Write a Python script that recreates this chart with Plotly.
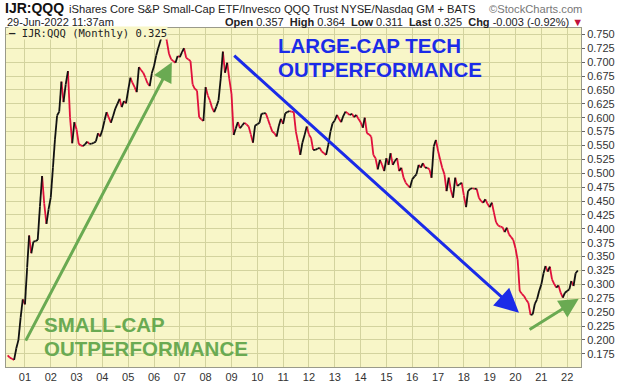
import pandas as pd
import plotly.graph_objects as go

# Monthly IJR:QQQ ratio, May 2000 .. Jun 2022
ratio_2000 = [0.172, 0.168, 0.166, 0.164, 0.185, 0.200, 0.240, 0.273]
ratio_2001 = [0.264, 0.330, 0.388, 0.356, 0.377, 0.378, 0.380, 0.440, 0.495, 0.445, 0.409, 0.435]
ratio_2002 = [0.456, 0.510, 0.560, 0.604, 0.611, 0.665, 0.628, 0.660, 0.684, 0.600, 0.554, 0.592]
ratio_2003 = [0.579, 0.553, 0.550, 0.549, 0.552, 0.557, 0.553, 0.553, 0.555, 0.557, 0.572, 0.566]
ratio_2004 = [0.578, 0.595, 0.610, 0.600, 0.591, 0.603, 0.616, 0.625, 0.634, 0.619, 0.630, 0.626]
ratio_2005 = [0.650, 0.672, 0.663, 0.655, 0.646, 0.691, 0.686, 0.681, 0.672, 0.662, 0.657, 0.680]
ratio_2006 = [0.693, 0.712, 0.725, 0.738, 0.752, 0.758, 0.738, 0.715, 0.705, 0.702, 0.699, 0.711]
ratio_2007 = [0.709, 0.718, 0.725, 0.708, 0.705, 0.702, 0.660, 0.652, 0.649, 0.601, 0.597, 0.594]
ratio_2008 = [0.655, 0.640, 0.631, 0.618, 0.610, 0.620, 0.631, 0.670, 0.719, 0.681, 0.699, 0.670]
ratio_2009 = [0.643, 0.569, 0.580, 0.592, 0.581, 0.586, 0.591, 0.588, 0.584, 0.570, 0.555, 0.586]
ratio_2010 = [0.588, 0.591, 0.607, 0.608, 0.608, 0.597, 0.586, 0.575, 0.572, 0.566, 0.585, 0.598]
ratio_2011 = [0.589, 0.608, 0.610, 0.612, 0.611, 0.610, 0.575, 0.555, 0.533, 0.555, 0.569, 0.584]
ratio_2012 = [0.570, 0.563, 0.542, 0.542, 0.544, 0.546, 0.539, 0.536, 0.533, 0.551, 0.575, 0.590]
ratio_2013 = [0.595, 0.605, 0.598, 0.592, 0.603, 0.611, 0.608, 0.605, 0.607, 0.601, 0.605, 0.598]
ratio_2014 = [0.592, 0.582, 0.600, 0.572, 0.570, 0.566, 0.533, 0.527, 0.507, 0.524, 0.515, 0.504]
ratio_2015 = [0.527, 0.515, 0.536, 0.515, 0.522, 0.527, 0.504, 0.510, 0.492, 0.483, 0.478, 0.474]
ratio_2016 = [0.489, 0.494, 0.498, 0.515, 0.510, 0.518, 0.510, 0.510, 0.507, 0.492, 0.548, 0.560]
ratio_2017 = [0.540, 0.524, 0.510, 0.498, 0.468, 0.492, 0.470, 0.456, 0.492, 0.477, 0.480, 0.483]
ratio_2018 = [0.460, 0.439, 0.468, 0.472, 0.473, 0.472, 0.472, 0.456, 0.450, 0.447, 0.453, 0.445]
ratio_2019 = [0.439, 0.447, 0.430, 0.412, 0.406, 0.404, 0.403, 0.394, 0.402, 0.390, 0.385, 0.380]
ratio_2020 = [0.365, 0.344, 0.288, 0.283, 0.279, 0.272, 0.267, 0.245, 0.246, 0.265, 0.273, 0.288]
ratio_2021 = [0.300, 0.320, 0.333, 0.323, 0.332, 0.309, 0.301, 0.294, 0.298, 0.285, 0.276, 0.285]
ratio_2022 = [0.288, 0.291, 0.306, 0.297, 0.320, 0.325]

start_month = "2000-05-01"

year_tick_dates = [f"{y}-01-01" for y in range(2001, 2023)]
year_tick_labels = ["01", "02", "03", "04", "05", "06", "07", "08", "09", "10", "11",
                    "12", "13", "14", "15", "16", "17", "18", "19", "20", "21", "22"]
y_tick_values = [0.175, 0.200, 0.225, 0.250, 0.275, 0.300, 0.325, 0.350, 0.375, 0.400,
                 0.425, 0.450, 0.475, 0.500, 0.525, 0.550, 0.575, 0.600, 0.625, 0.650,
                 0.675, 0.700, 0.725, 0.750]

values = (ratio_2000 + ratio_2001 + ratio_2002 + ratio_2003 + ratio_2004 + ratio_2005 +
          ratio_2006 + ratio_2007 + ratio_2008 + ratio_2009 + ratio_2010 + ratio_2011 +
          ratio_2012 + ratio_2013 + ratio_2014 + ratio_2015 + ratio_2016 + ratio_2017 +
          ratio_2018 + ratio_2019 + ratio_2020 + ratio_2021 + ratio_2022)
dates = pd.date_range(start_month, periods=len(values), freq="MS")

# split into up (black) and down (red) segments, StockCharts style
up_x, up_y, dn_x, dn_y = [], [], [], []
for k in range(1, len(values)):
    if values[k] >= values[k - 1]:
        up_x += [dates[k - 1], dates[k], None]
        up_y += [values[k - 1], values[k], None]
    else:
        dn_x += [dates[k - 1], dates[k], None]
        dn_y += [values[k - 1], values[k], None]

RED = "#E0103C"
BLUE = "#1B2BE8"
GREEN = "#6AAA52"
PLOTBG = "#F8F6C8"
FONT = "Liberation Sans, Arial, sans-serif"

fig = go.Figure()
fig.add_trace(go.Scatter(x=dn_x, y=dn_y, mode="lines", line=dict(color=RED, width=1.8),
                         connectgaps=False, hoverinfo="skip"))
fig.add_trace(go.Scatter(x=up_x, y=up_y, mode="lines", line=dict(color="#111111", width=1.8),
                         connectgaps=False, hoverinfo="skip"))

L, R, T, B = 5, 584, 28, 371
W, H = 620, 388


def px(X):
    return (X - L) / (R - L)


def py(Y):
    return (B - Y) / (B - T)


anns = []
# header
anns.append(dict(x=px(2), y=py(8), xref="paper", yref="paper", xanchor="left", yanchor="middle",
                 text="<b>IJR:QQQ</b>", showarrow=False, font=dict(family=FONT, size=14, color="#111")))
anns.append(dict(x=px(66), y=py(8.5), xref="paper", yref="paper", xanchor="left", yanchor="middle",
                 text="iShares Core S&P Small-Cap ETF/Invesco QQQ Trust NYSE/Nasdaq GM + BATS",
                 showarrow=False, font=dict(family=FONT, size=11.2, color="#222")))
anns.append(dict(x=px(587), y=py(8.5), xref="paper", yref="paper", xanchor="right", yanchor="middle",
                 text="©StockCharts.com", showarrow=False,
                 font=dict(family=FONT, size=11.2, color="#777")))
anns.append(dict(x=px(4), y=py(22), xref="paper", yref="paper", xanchor="left", yanchor="middle",
                 text="29-Jun-2022 11:37am", showarrow=False,
                 font=dict(family=FONT, size=11, color="#222")))
anns.append(dict(x=px(588), y=py(22), xref="paper", yref="paper", xanchor="right", yanchor="middle",
                 text=("<b>Open</b> 0.357  <b>High</b> 0.364  <b>Low</b> 0.311  <b>Last</b> 0.325  "
                       "<b>Chg</b> -0.003 (-0.92%) <span style='color:#C0103A'>▼</span>"),
                 showarrow=False, font=dict(family=FONT, size=11, color="#222")))
# legend inside plot
anns.append(dict(x=px(7), y=py(33), xref="paper", yref="paper", xanchor="left", yanchor="middle",
                 text="<b>—</b> IJR:QQQ (Monthly) 0.325", showarrow=False, bgcolor=PLOTBG,
                 borderpad=0, font=dict(family="DejaVu Sans Mono, monospace", size=10.5, color="#222")))
# big labels
anns.append(dict(x=px(277), y=py(46), xref="paper", yref="paper", xanchor="left", yanchor="middle",
                 text="<b>LARGE-CAP TECH</b>", showarrow=False, font=dict(family=FONT, size=20.5, color=BLUE)))
anns.append(dict(x=px(277), y=py(70), xref="paper", yref="paper", xanchor="left", yanchor="middle",
                 text="<b>OUTPERFORMANCE</b>", showarrow=False, font=dict(family=FONT, size=20.5, color=BLUE)))
anns.append(dict(x=px(41), y=py(328), xref="paper", yref="paper", xanchor="left", yanchor="middle",
                 text="<b>SMALL-CAP</b>", showarrow=False, font=dict(family=FONT, size=20.5, color=GREEN)))
anns.append(dict(x=px(41), y=py(352), xref="paper", yref="paper", xanchor="left", yanchor="middle",
                 text="<b>OUTPERFORMANCE</b>", showarrow=False, font=dict(family=FONT, size=20.5, color=GREEN)))
# arrows
anns.append(dict(x="2006-09-10", y=0.700, ax="2001-01-01", ay=0.196, xref="x", yref="y",
                 axref="x", ayref="y", text="", showarrow=True, arrowhead=2, arrowsize=1.3,
                 arrowwidth=3, arrowcolor=GREEN, standoff=0))
anns.append(dict(x="2020-02-20", y=0.249, ax="2009-01-18", ay=0.714, xref="x", yref="y",
                 axref="x", ayref="y", text="", showarrow=True, arrowhead=2, arrowsize=1.6,
                 arrowwidth=3, arrowcolor=BLUE, standoff=0))
anns.append(dict(x="2022-06-14", y=0.274, ax="2020-06-28", ay=0.217, xref="x", yref="y",
                 axref="x", ayref="y", text="", showarrow=True, arrowhead=2, arrowsize=1.3,
                 arrowwidth=3, arrowcolor=GREEN, standoff=0))

fig.update_layout(
    width=W, height=H,
    margin=dict(l=L, r=W - R, t=T, b=H - B),
    paper_bgcolor="white",
    plot_bgcolor=PLOTBG,
    showlegend=False,
    annotations=anns,
    xaxis=dict(type="date", range=["2000-04-08", "2022-07-16"],
               tickvals=year_tick_dates, ticktext=year_tick_labels,
               showgrid=True, gridcolor="#D3D39E", gridwidth=1,
               showline=True, linecolor="#9A9A8A", linewidth=1, mirror=True,
               ticks="", tickfont=dict(family=FONT, size=11, color="#333"), zeroline=False),
    yaxis=dict(side="right", range=[0.1512, 0.7615], tickvals=y_tick_values, tickformat=".3f",
               showgrid=True, gridcolor="#D3D39E", gridwidth=1,
               showline=True, linecolor="#9A9A8A", linewidth=1, mirror=True,
               ticks="outside", ticklen=3, tickcolor="#666",
               tickfont=dict(family=FONT, size=11, color="#333"), zeroline=False),
)

fig.write_html("out.html", config={"displayModeBar": False},
               post_script="document.body.style.margin='0px';document.body.style.padding='0px';")
